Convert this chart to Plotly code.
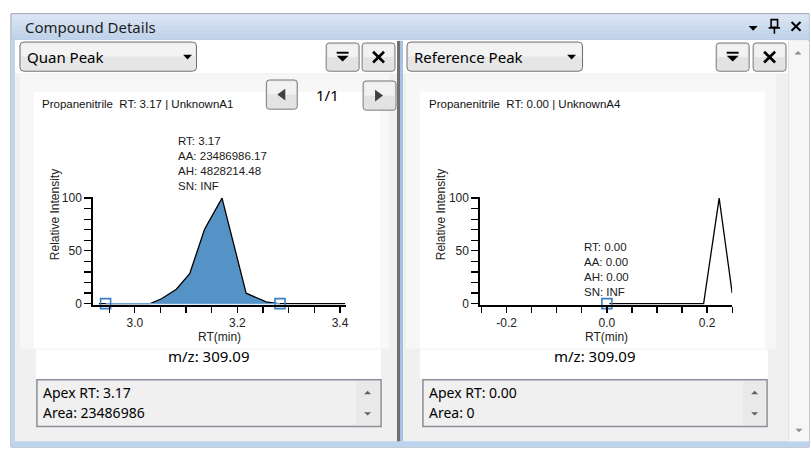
import plotly.graph_objects as go

# ---------------- data ----------------
compound = "Propanenitrile"
mz_value = 309.09

# Quan peak chromatogram (retention time in minutes, relative intensity in %)
quan_rt = [2.930, 3.030, 3.052, 3.081, 3.107, 3.136, 3.170, 3.192, 3.217, 3.256, 3.280, 3.410]
quan_int = [0, 0, 4.6, 13.6, 28.3, 70.5, 100, 57, 9.9, 1.6, 0, 0]
quan_bounds = [2.943, 3.283]
quan_sample = "UnknownA1"
quan_apex_rt = 3.17
quan_area = 23486986.17
quan_height = 4828214.48
quan_sn = "INF"
quan_ticks = [3.0, 3.2, 3.4]
quan_tick_labels = ["3.0", "3.2", "3.4"]

# Reference peak chromatogram
ref_rt = [0.005, 0.193, 0.224, 0.250]
ref_int = [0, 0, 100, 10]
ref_bounds = [0.0]
ref_sample = "UnknownA4"
ref_apex_rt = 0.00
ref_area = 0.00
ref_height = 0.00
ref_sn = "INF"
ref_ticks = [-0.2, 0.0, 0.2]
ref_tick_labels = ["-0.2", "0.0", "0.2"]

int_ticks = [0, 50, 100]
int_tick_labels = ["0", "50", "100"]

# ---------------- geometry helpers (pixel -> paper) ----------------
W, H = 811, 453


def X(px):
    return px / W


def Y(py):
    return 1 - py / H


shapes = []
annotations = []


def rect(x0, y0, x1, y1, fill, line=None, lw=1):
    shapes.append(dict(type="rect", xref="paper", yref="paper",
                       x0=X(x0), x1=X(x1), y0=Y(y1), y1=Y(y0),
                       fillcolor=fill, layer="below",
                       line=dict(color=line or "rgba(0,0,0,0)", width=lw if line else 0)))


def path_shape(d, fill, line=None, lw=1):
    shapes.append(dict(type="path", xref="paper", yref="paper", path=d,
                       fillcolor=fill, layer="below",
                       line=dict(color=line or "rgba(0,0,0,0)", width=lw if line else 0)))


def pt(px, py):
    return f"{X(px):.6f},{Y(py):.6f}"


def rrect(x0, y0, x1, y1, r, fill, line=None, lw=1):
    d = (f"M{pt(x0 + r, y0)} L{pt(x1 - r, y0)} Q{pt(x1, y0)} {pt(x1, y0 + r)} "
         f"L{pt(x1, y1 - r)} Q{pt(x1, y1)} {pt(x1 - r, y1)} "
         f"L{pt(x0 + r, y1)} Q{pt(x0, y1)} {pt(x0, y1 - r)} "
         f"L{pt(x0, y0 + r)} Q{pt(x0, y0)} {pt(x0 + r, y0)} Z")
    path_shape(d, fill, line, lw)


def poly(points, fill, line=None, lw=1):
    d = "M" + " L".join(pt(a, b) for a, b in points) + " Z"
    path_shape(d, fill, line, lw)


def seg(x0, y0, x1, y1, color, width):
    shapes.append(dict(type="line", xref="paper", yref="paper",
                       x0=X(x0), x1=X(x1), y0=Y(y0), y1=Y(y1), layer="below",
                       line=dict(color=color, width=width)))


def text(px, py, s, size=14, color="#1a1a1a", family="Noto Sans, sans-serif",
         xanchor="left", yanchor="middle", angle=0):
    annotations.append(dict(xref="paper", yref="paper", x=X(px), y=Y(py), text=s,
                            showarrow=False, xanchor=xanchor, yanchor=yanchor,
                            textangle=angle, font=dict(size=size, color=color, family=family)))


def button(x0, y0, x1, y1):
    rrect(x0, y0, x1, y1, 3, "#e3e3e3", "#7a7a7a", 1)
    rect(x0 + 1.5, y0 + 1.5, x1 - 1.5, (y0 + y1) / 2, "#f2f2f2")


def filter_icon(cx, cy):
    rect(cx - 6, cy - 5.5, cx + 6, cy - 3.5, "#000000")
    poly([(cx - 6, cy - 1.5), (cx + 6, cy - 1.5), (cx, cy + 4.5)], "#000000")


def close_icon(cx, cy, r=5.5, w=2.6):
    seg(cx - r, cy - r, cx + r, cy + r, "#000000", w)
    seg(cx - r, cy + r, cx + r, cy - r, "#000000", w)


def down_tri(cx, cy, w=4.5, h=4.5, color="#000000"):
    poly([(cx - w, cy - h / 2), (cx + w, cy - h / 2), (cx, cy + h / 2)], color)


def up_tri(cx, cy, w=4.5, h=4.5, color="#000000"):
    poly([(cx - w, cy + h / 2), (cx + w, cy + h / 2), (cx, cy - h / 2)], color)


# ---------------- window chrome ----------------
rect(11, 8, 811, 453, "#f0f0f0", "#8d99aa", 1)
# title bar gradient
top_c, bot_c = (217, 229, 244), (186, 206, 232)
n_bands = 13
for i in range(n_bands):
    t = i / (n_bands - 1)
    c = tuple(round(top_c[k] + (bot_c[k] - top_c[k]) * t) for k in range(3))
    y0 = 9 + i * 2
    rect(12, y0, 811, min(y0 + 2.2, 35), f"rgb{c}")
text(23, 22, "Compound Details", size=15, color="#1e1e1e")
down_tri(755, 23, 4.5, 5)
rect(773, 14, 779.5, 22, "rgba(0,0,0,0)", "#000000", 1.6)
seg(770.5, 22.5, 782, 22.5, "#000000", 1.6)
seg(776.3, 22.5, 776.3, 28.5, "#000000", 1.6)
close_icon(798, 21, 4.5, 2)

# panel headers
rect(15, 35, 398, 69, "#ffffff")
rect(404, 35, 790, 69, "#ffffff")
# side frame and bottom strip
rect(11, 35, 15, 447, "#c3d4ea")
rect(11, 447, 811, 453, "#bdd3ee")
# splitter
rect(398, 36, 401, 447, "#6f6f6f")
rect(401, 36, 404, 447, "#a9c2e2")
# window scrollbar
rect(790, 36, 811, 447, "#f6f6f6")
seg(790.5, 36, 790.5, 447, "#e2e2e2", 1)
up_tri(800, 48, 3.5, 3.5, "#8c8c8c")
down_tri(801, 436, 3.5, 3.5, "#8c8c8c")

# dropdowns and toolbar buttons
for (x0, x1, label, ax) in [(20, 197, "Quan Peak", 188), (408, 584, "Reference Peak", 573)]:
    rrect(x0, 37, x1, 67, 4, "#e6e6e6", "#707070", 1)
    rect(x0 + 1.5, 38.5, x1 - 1.5, 52, "#f3f3f3")
    text(x0 + 5, 52, label, size=15, color="#000000")
    down_tri(ax, 52.5, 4.5, 5)
for (fx, cx) in [(327, 363), (718, 755)]:
    button(fx, 38, fx + 33, 67)
    filter_icon(fx + 16.5, 52.5)
    button(cx, 38, cx + 33, 67)
    close_icon(cx + 16.5, 52.5)

# plot areas
for (x0, x1) in [(20, 390), (407, 778)]:
    rect(x0, 70, x1, 352, "#f7f7f7")
rect(34, 88, 381, 352, "#ffffff")
rect(421, 88, 767, 352, "#ffffff")
rect(36, 352, 382, 383, "#ffffff")
rect(421, 352, 770, 383, "#ffffff")
seg(36, 352.5, 382, 352.5, "#f0f0f0", 1)
seg(421, 352.5, 770, 352.5, "#f0f0f0", 1)

# page navigation (left panel)
button(267, 76, 298, 106)
poly([(278, 91), (286, 85), (286, 97)], "#404040")
button(364, 77, 397, 107)
poly([(376, 86), (376, 98), (384, 92)], "#404040")
text(328, 91.5, "1/1", size=15, color="#000000", xanchor="center")

# summary boxes
for (x0, x1, sx, rt, area) in [(37, 382, 357, quan_apex_rt, quan_area),
                              (424, 769, 745, ref_apex_rt, ref_area)]:
    rect(x0, 384, x1, 432, "#f0f0f0", "#8a8f97", 1.5)
    rect(sx, 385.5, x1 - 1.5, 430.5, "#e9e9e9")
    up_tri(sx + 11.5, 397, 3.5, 3.5, "#606060")
    down_tri(sx + 11.5, 419, 3.5, 3.5, "#606060")
    text(x0 + 4, 397, f"Apex RT: {rt:.2f}", size=14, color="#000000")
    text(x0 + 4, 418, f"Area: {area:.0f}", size=14, color="#000000")

# m/z labels
text(210, 360, f"m/z: {mz_value:.2f}", size=15, color="#000000", xanchor="center")
text(596, 360, f"m/z: {mz_value:.2f}", size=15, color="#000000", xanchor="center")

# chart titles
chart_font = "Liberation Sans, Arial, sans-serif"
text(40, 100.5, f"{compound}\u00a0 RT: {quan_apex_rt:.2f} | {quan_sample}", size=11.5,
     color="#111111", family=chart_font)
text(428, 100.5, f"{compound}\u00a0 RT: {ref_apex_rt:.2f} | {ref_sample}", size=11.5,
     color="#111111", family=chart_font)

# axis titles
for (cx, xc) in [(55, 220), (442, 608)]:
    text(cx, 214, "Relative Intensity", size=12, color="#222222", family=chart_font,
         xanchor="center", angle=-90)
    text(xc, 340, "RT(min)", size=12, color="#222222", family=chart_font, xanchor="center")

# ---------------- traces ----------------
fig = go.Figure()

# filled integrated area between the peak boundaries
fill_x = [quan_bounds[0]] + [x for x in quan_rt if quan_bounds[0] < x < quan_bounds[1]] + [quan_bounds[1]]
fill_y = [0] + [quan_int[i] for i, x in enumerate(quan_rt) if quan_bounds[0] < x < quan_bounds[1]] + [0]
fig.add_trace(go.Scatter(x=fill_x, y=fill_y, mode="lines", fill="tozeroy",
                         fillcolor="#5592c6", line=dict(width=0), hoverinfo="skip",
                         xaxis="x", yaxis="y"))
fig.add_trace(go.Scatter(x=quan_rt, y=quan_int, mode="lines",
                         line=dict(color="#000000", width=1.3), hoverinfo="skip",
                         xaxis="x", yaxis="y"))
fig.add_trace(go.Scatter(x=quan_bounds, y=[0, 0], mode="lines",
                         line=dict(color="#6aa0d4", width=1.4), hoverinfo="skip",
                         xaxis="x", yaxis="y"))
fig.add_trace(go.Scatter(x=quan_bounds, y=[0, 0], mode="markers", cliponaxis=False,
                         marker=dict(symbol="square-open", size=10, color="#3b7dc0",
                                     line=dict(width=1.6)),
                         hoverinfo="skip", xaxis="x", yaxis="y"))

fig.add_trace(go.Scatter(x=ref_rt, y=ref_int, mode="lines",
                         line=dict(color="#000000", width=1.3), hoverinfo="skip",
                         xaxis="x2", yaxis="y2"))
fig.add_trace(go.Scatter(x=ref_bounds, y=[0], mode="markers", cliponaxis=False,
                         marker=dict(symbol="square-open", size=10, color="#3b7dc0",
                                     line=dict(width=1.6)),
                         hoverinfo="skip", xaxis="x2", yaxis="y2"))

# peak information labels
for (xr, yr, rt, aa, ah, sn, ya) in [("x", "y", quan_apex_rt, quan_area, quan_height, quan_sn, 100),
                                      ("x2", "y2", ref_apex_rt, ref_area, ref_height, ref_sn, 0)]:
    annotations.append(dict(xref=xr, yref=yr, x=rt, y=ya, xanchor="center", yanchor="bottom",
                            yshift=4, showarrow=False, align="left",
                            text=f"RT: {rt:.2f}<br>AA: {aa:.2f}<br>AH: {ah:.2f}<br>SN: {sn}",
                            font=dict(size=11.5, color="#1a1a1a", family=chart_font)))

# ---------------- axes ----------------
tick_font = dict(size=12, color="#222222", family=chart_font)


def x_axis(dom, rng, vals, labels, anchor, tick0):
    return dict(domain=dom, range=rng, anchor=anchor, showline=True, linecolor="#000000",
                linewidth=2, ticks="outside", ticklen=6, tickwidth=1.3, tickcolor="#000000",
                tickmode="array", tickvals=vals, ticktext=labels, tickfont=tick_font,
                showgrid=False, zeroline=False, fixedrange=True,
                minor=dict(tickmode="linear", tick0=tick0, dtick=0.05, ticks="outside",
                           ticklen=6, tickwidth=1.3, tickcolor="#000000", showgrid=False))


def y_axis(dom, anchor):
    return dict(domain=dom, range=[-1, 101], anchor=anchor, showline=True, linecolor="#000000",
                linewidth=1.5, ticks="outside", ticklen=7, tickwidth=1.3, tickcolor="#000000",
                tickmode="array", tickvals=int_ticks, ticktext=int_tick_labels,
                tickfont=tick_font, showgrid=False, zeroline=False, fixedrange=True,
                minor=dict(tickmode="linear", tick0=0, dtick=10, ticks="outside",
                           ticklen=7, tickwidth=1.3, tickcolor="#000000", showgrid=False))


ydom = [Y(306.8), Y(196.2)]
fig.update_layout(
    width=W, height=H, autosize=False,
    margin=dict(l=0, r=0, t=0, b=0, pad=0),
    paper_bgcolor="#ffffff", plot_bgcolor="rgba(0,0,0,0)",
    showlegend=False,
    xaxis=x_axis([X(93), X(347)], [2.918, 3.412], quan_ticks, quan_tick_labels, "y", 2.95),
    yaxis=y_axis(ydom, "x"),
    xaxis2=x_axis([X(481), X(734)], [-0.2535, 0.25], ref_ticks, ref_tick_labels, "y2", -0.25),
    yaxis2=y_axis(ydom, "x2"),
    shapes=shapes,
    annotations=annotations,
)

fig.write_html("out.html", config={"displayModeBar": False, "staticPlot": True})
